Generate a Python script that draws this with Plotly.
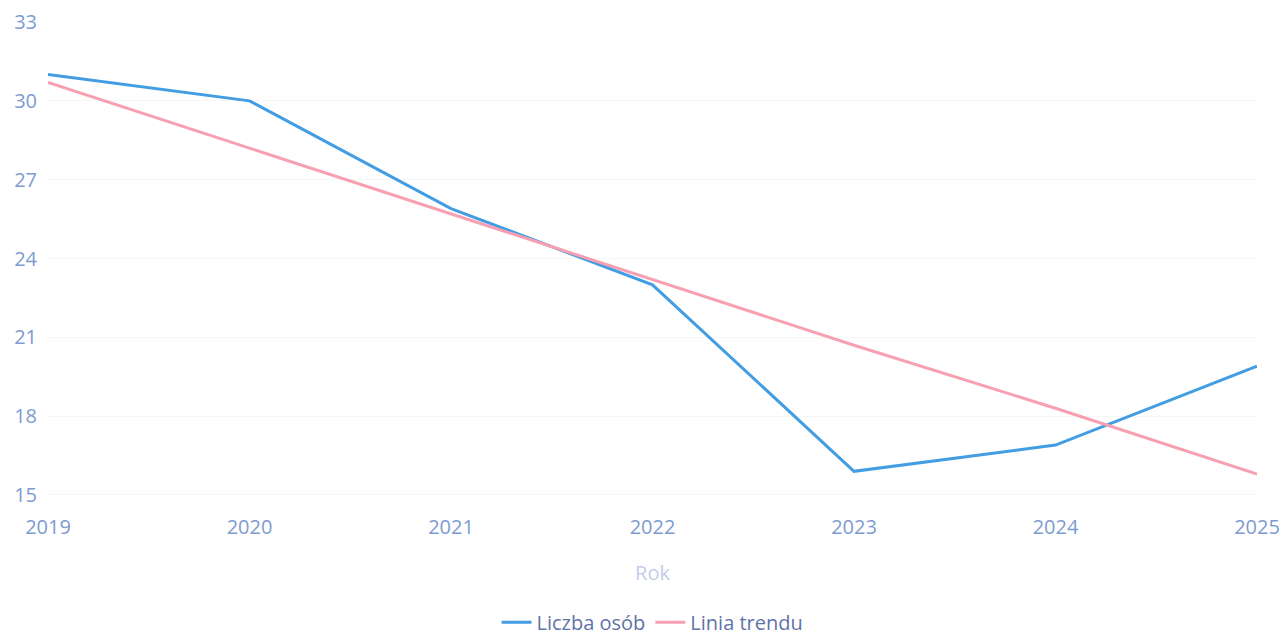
import plotly.graph_objects as go

# DANE
lata = [2019, 2020, 2021, 2022, 2023, 2024, 2025]
liczba_osob = [31.0, 30.0, 25.9, 23.0, 15.9, 16.9, 19.9]
linia_trendu = [30.7, 28.2, 25.7, 23.2, 20.7, 18.3, 15.8]

y_ticks = [15, 18, 21, 24, 27, 30, 33]


fig = go.Figure()

fig.add_trace(go.Scatter(
    x=lata,
    y=liczba_osob,
    mode="lines",
    name="Liczba osób",
    line=dict(color="#429de2", width=3)
))

fig.add_trace(go.Scatter(
    x=lata,
    y=linia_trendu,
    mode="lines",
    name="Linia trendu",
    line=dict(color="#f6a0b2", width=3)
))

fig.update_layout(
    width=1284,
    height=635,
    margin=dict(l=48, r=27, t=22, b=140),
    paper_bgcolor="white",
    plot_bgcolor="white",
    font=dict(family="Open Sans", size=20, color="#7d9bd0"),
    showlegend=True,
    legend=dict(
        orientation="h",
        x=0.5,
        xanchor="center",
        yref="container",
        y=0.02,
        yanchor="middle",
        font=dict(size=20, color="#5f73a8"),
        tracegroupgap=0
    ),
    xaxis=dict(
        range=[2019, 2025],
        tickvals=lata,
        showgrid=False,
        zeroline=False,
        showline=False,
        ticklabelstandoff=18,
        title=dict(text="Rok", font=dict(size=20, color="#c3cdea"), standoff=26),
        automargin=False
    ),
    yaxis=dict(
        range=[15, 33],
        tickvals=y_ticks,
        showgrid=True,
        gridcolor="#f6f6f6",
        zeroline=False,
        showline=False,
        ticklabelstandoff=10,
        automargin=False
    )
)

fig.add_shape(
    type="line", xref="paper", yref="y",
    x0=0, x1=1, y0=15, y1=15,
    line=dict(color="#ececec", width=1),
    layer="below"
)

fig.write_html(
    "out.html",
    config={"displayModeBar": False},
    post_script="document.body.style.margin='0';"
)
